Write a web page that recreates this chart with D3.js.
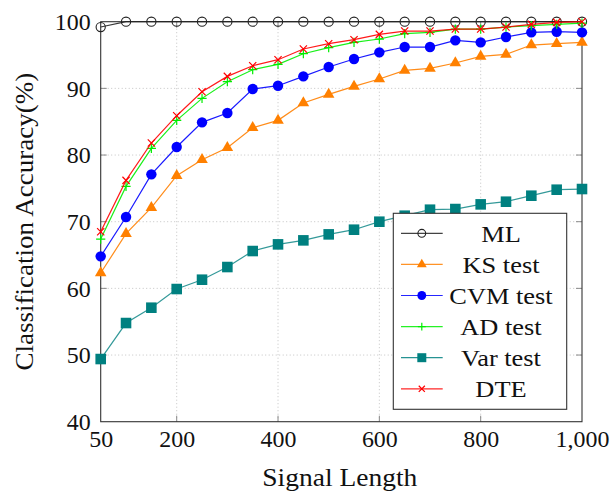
<!DOCTYPE html>
<html>
<head>
<meta charset="utf-8">
<script src="https://cdn.jsdelivr.net/npm/d3@7"></script>
<style>
  html, body { margin: 0; padding: 0; background: #fff; }
  svg text { font-family: "Liberation Serif", "DejaVu Serif", serif; fill: #111; }
</style>
</head>
<body>
<svg id="chart" width="613" height="491"></svg>
<script>
// Signal lengths and accuracy (%) per detector
const lengths = [50, 100, 150, 200, 250, 300, 350, 400, 450, 500,
                 550, 600, 650, 700, 750, 800, 850, 900, 950, 1000];
const mlAcc  = [99.2, 100, 100, 100, 100, 100, 100, 100, 100, 100,
                100, 100, 100, 100, 100, 100, 100, 100, 100, 100];
const ksAcc  = [62.3, 68.2, 72.1, 76.9, 79.3, 81.1, 84.1, 85.2, 87.8, 89.1,
                90.3, 91.4, 92.7, 93.0, 93.8, 94.8, 95.1, 96.5, 96.7, 96.9];
const cvmAcc = [64.8, 70.7, 77.1, 81.2, 84.9, 86.3, 89.9, 90.4, 91.8, 93.2,
                94.4, 95.4, 96.2, 96.2, 97.2, 96.9, 97.7, 98.4, 98.5, 98.4];
const adAcc  = [67.4, 75.3, 81.0, 85.2, 88.5, 91.0, 92.8, 93.6, 95.2, 96.1,
                96.9, 97.4, 98.2, 98.4, 98.9, 98.9, 99.2, 99.4, 99.6, 99.8];
const varAcc = [49.4, 54.8, 57.1, 59.9, 61.3, 63.2, 65.6, 66.6, 67.2, 68.1,
                68.8, 70.0, 70.9, 71.8, 71.9, 72.6, 73.0, 73.9, 74.8, 74.9];
const dteAcc = [68.5, 76.2, 81.8, 85.9, 89.5, 91.8, 93.4, 94.3, 95.9, 96.7,
                97.3, 98.1, 98.6, 98.6, 98.9, 98.9, 99.2, 99.6, 99.9, 100];

const xTicks = [50, 200, 400, 600, 800, 1000];
const xTickLabels = ["50", "200", "400", "600", "800", "1,000"];
const yTicks = [40, 50, 60, 70, 80, 90, 100];

const seriesNames = ["ML", "KS test", "CVM test", "AD test", "Var test", "DTE"];
const seriesColors = ["#222222", "#ff8000", "#0000ff", "#00ee00", "#008080", "#ff0000"];
const seriesMarks = ["circle", "triangle", "dot", "plus", "square", "cross"];
const seriesValues = [mlAcc, ksAcc, cvmAcc, adAcc, varAcc, dteAcc];

const svg = d3.select("#chart");
const plotL = 100.7, plotR = 582, plotT = 21.7, plotB = 421.7;

const x = d3.scaleLinear().domain([50, 1000]).range([plotL, plotR]);
const y = d3.scaleLinear().domain([40, 100]).range([plotB, plotT]);

// widen serif text slightly for a book-face look
function widen(sel, f) {
  sel.each(function () {
    const w = this.getComputedTextLength();
    d3.select(this).attr("textLength", w * f).attr("lengthAdjust", "spacingAndGlyphs");
  });
}

// grid
const grid = svg.append("g");
grid.selectAll("line.gx").data(xTicks.slice(1, -1)).join("line")
  .attr("x1", d => x(d)).attr("x2", d => x(d))
  .attr("y1", plotT).attr("y2", plotB)
  .attr("stroke", "#bdbdbd").attr("stroke-width", 0.9).attr("stroke-dasharray", "1,2.5");
grid.selectAll("line.gy").data(yTicks.slice(1, -1)).join("line")
  .attr("x1", plotL).attr("x2", plotR)
  .attr("y1", d => y(d)).attr("y2", d => y(d))
  .attr("stroke", "#bdbdbd").attr("stroke-width", 0.9).attr("stroke-dasharray", "1,2.5");

// inward ticks on all four sides
const tickLen = 6;
const ticks = svg.append("g").attr("stroke", "#8a8a8a").attr("stroke-width", 1);
xTicks.slice(1, -1).forEach(t => {
  ticks.append("line").attr("x1", x(t)).attr("x2", x(t)).attr("y1", plotB).attr("y2", plotB - tickLen);
  ticks.append("line").attr("x1", x(t)).attr("x2", x(t)).attr("y1", plotT).attr("y2", plotT + tickLen);
});
yTicks.slice(1, -1).forEach(t => {
  ticks.append("line").attr("x1", plotL).attr("x2", plotL + tickLen).attr("y1", y(t)).attr("y2", y(t));
  ticks.append("line").attr("x1", plotR).attr("x2", plotR - tickLen).attr("y1", y(t)).attr("y2", y(t));
});

// frame
svg.append("rect").attr("x", plotL).attr("y", plotT)
  .attr("width", plotR - plotL).attr("height", plotB - plotT)
  .attr("fill", "none").attr("stroke", "#333").attr("stroke-width", 1.1);

// tick labels via d3 axes (lines hidden, text only)
const xAxis = svg.append("g").attr("transform", `translate(0,${plotB})`)
  .call(d3.axisBottom(x).tickValues(xTicks).tickSize(0).tickPadding(0)
    .tickFormat((d, i) => xTickLabels[i]));
xAxis.select(".domain").remove();
xAxis.selectAll("text").attr("font-size", 23).attr("dy", 0).attr("y", 25)
  .attr("font-family", "Liberation Serif").attr("fill", "#111");
widen(xAxis.selectAll("text"), 1.04);

const yAxis = svg.append("g").attr("transform", `translate(${plotL},0)`)
  .call(d3.axisLeft(y).tickValues(yTicks).tickSize(0).tickPadding(10));
yAxis.select(".domain").remove();
yAxis.selectAll("text").attr("font-size", 23).attr("dy", "0.34em")
  .attr("font-family", "Liberation Serif").attr("fill", "#111");
widen(yAxis.selectAll("text"), 1.04);

// titles
const xt = svg.append("text").attr("x", (plotL + plotR) / 2 - 1.5).attr("y", 485.5)
  .attr("text-anchor", "middle").attr("font-size", 25).text("Signal Length");
widen(xt, 1.1);
const yt = svg.append("text").attr("transform", `translate(32.5,${(plotT + plotB) / 2}) rotate(-90)`)
  .attr("text-anchor", "middle").attr("font-size", 25).text("Classification Accuracy(%)");
widen(yt, 1.08);

// marker drawing
function drawMark(g, kind, color, cx, cy, scale) {
  const s = scale || 1;
  if (kind === "circle") {
    g.append("circle").attr("cx", cx).attr("cy", cy).attr("r", 4.6 * s)
      .attr("fill", "none").attr("stroke", color).attr("stroke-width", 1.1);
  } else if (kind === "dot") {
    g.append("circle").attr("cx", cx).attr("cy", cy).attr("r", 5.2 * s).attr("fill", color);
  } else if (kind === "triangle") {
    g.append("path").attr("d", d3.symbol(d3.symbolTriangle, 58 * s * s)())
      .attr("transform", `translate(${cx},${cy})`).attr("fill", color);
  } else if (kind === "square") {
    g.append("path").attr("d", d3.symbol(d3.symbolSquare, 112 * s * s)())
      .attr("transform", `translate(${cx},${cy})`).attr("fill", color);
  } else if (kind === "plus") {
    const a = 4.6 * s;
    g.append("path").attr("d", `M${cx - a},${cy}H${cx + a}M${cx},${cy - a}V${cy + a}`)
      .attr("stroke", color).attr("stroke-width", 1.2).attr("fill", "none");
  } else if (kind === "cross") {
    const a = 3.6 * s;
    g.append("path").attr("d", `M${cx - a},${cy - a}L${cx + a},${cy + a}M${cx - a},${cy + a}L${cx + a},${cy - a}`)
      .attr("stroke", color).attr("stroke-width", 1.2).attr("fill", "none");
  }
}

// series
const line = d3.line().x(d => x(d[0])).y(d => y(d[1]));
seriesValues.forEach((vals, k) => {
  const pts = lengths.map((L, i) => [L, vals[i]]);
  const g = svg.append("g");
  g.append("path").datum(pts).attr("d", line)
    .attr("fill", "none").attr("stroke", seriesColors[k])
    .attr("stroke-width", 1.2).attr("stroke-opacity", k === 4 ? 0.8 : 0.9);
  pts.forEach(p => drawMark(g, seriesMarks[k], seriesColors[k], x(p[0]), y(p[1])));
});

// legend
const lg = svg.append("g");
const lx0 = 393.3, ly0 = 213.3, lw = 173.4, lh = 196;
lg.append("rect").attr("x", lx0).attr("y", ly0).attr("width", lw).attr("height", lh)
  .attr("fill", "#fff").attr("stroke", "#333").attr("stroke-width", 1.1);
seriesNames.forEach((name, k) => {
  const cy = 233.3 + k * 31.1;
  lg.append("line").attr("x1", 401).attr("x2", 442.7).attr("y1", cy).attr("y2", cy)
    .attr("stroke", seriesColors[k]).attr("stroke-width", 1.2).attr("stroke-opacity", 0.85);
  drawMark(lg, seriesMarks[k], seriesColors[k], 421.8, cy, 0.85);
  const t = lg.append("text").attr("x", 501).attr("y", cy + 8.2)
    .attr("text-anchor", "middle").attr("font-size", 24).text(name);
  widen(t, 1.1);
});
</script>
</body>
</html>
